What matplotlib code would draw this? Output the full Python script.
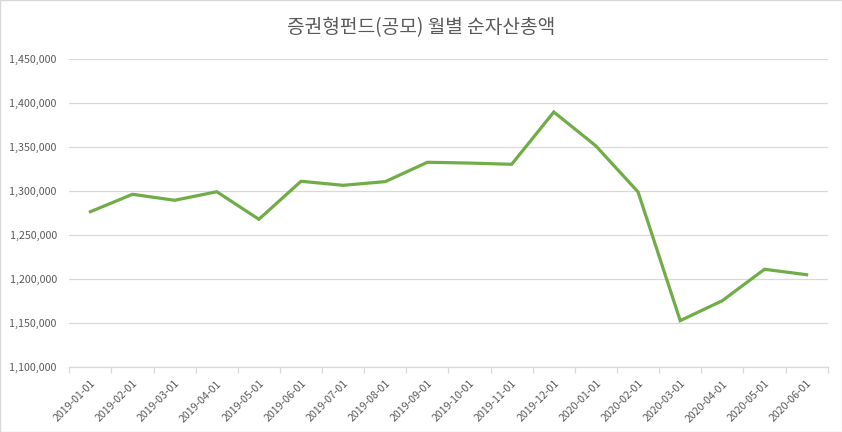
import matplotlib
matplotlib.use("Agg")
import matplotlib.pyplot as plt
from matplotlib.ticker import FuncFormatter

plt.rcParams['font.family'] = ['Noto Sans CJK KR', 'DejaVu Sans']

dates = ["2019-01-01", "2019-02-01", "2019-03-01", "2019-04-01", "2019-05-01", "2019-06-01",
         "2019-07-01", "2019-08-01", "2019-09-01", "2019-10-01", "2019-11-01", "2019-12-01",
         "2020-01-01", "2020-02-01", "2020-03-01", "2020-04-01", "2020-05-01", "2020-06-01"]
values = [1276800, 1296600, 1289800, 1299500, 1268200, 1311400,
          1306800, 1311000, 1333000, 1332100, 1330700, 1390100,
          1351500, 1299200, 1153000, 1175700, 1211400, 1205200]
yticks = [1100000, 1150000, 1200000, 1250000, 1300000, 1350000, 1400000, 1450000]
title = "증권형펀드(공모) 월별 순자산총액"

fig = plt.figure(figsize=(8.42, 4.32), dpi=100)
ax = fig.add_axes([0.0823, 0.1498, 0.9007, 0.7129])

x = list(range(len(dates)))
ax.plot(x, values, color="#70ad47", linewidth=2.3, solid_joinstyle="miter")

ax.set_ylim(yticks[0], yticks[-1])
ax.set_yticks(yticks)
ax.yaxis.set_major_formatter(FuncFormatter(lambda v, p: f"{int(v):,}"))
ax.set_xlim(-0.5, len(dates) - 0.5)
ax.set_xticks(x)
ax.set_xticklabels(dates, rotation=45, ha="right", rotation_mode="anchor")
ax.set_xticks([i - 0.5 for i in range(len(dates) + 1)], minor=True)

ax.grid(axis="y", color="#d9d9d9", linewidth=0.9)
ax.set_axisbelow(True)
for s in ["top", "right", "left"]:
    ax.spines[s].set_visible(False)
ax.spines["bottom"].set_color("#d9d9d9")
ax.spines["bottom"].set_linewidth(0.9)

ax.tick_params(axis="y", length=0, labelsize=7.7, labelcolor="#595959", pad=9)
ax.tick_params(axis="x", which="major", length=0, labelsize=7.6, labelcolor="#595959", pad=8)
ax.tick_params(axis="x", which="minor", length=4, color="#d9d9d9", width=0.9)

fig.text(0.5, 0.936, title, ha="center", va="center", fontsize=13.8, color="#595959")

fig.patches.append(plt.Rectangle((0, 0), 1, 1, transform=fig.transFigure,
                                 fill=False, edgecolor="#d9d9d9", linewidth=1))

fig.savefig("out.png", dpi=100)
